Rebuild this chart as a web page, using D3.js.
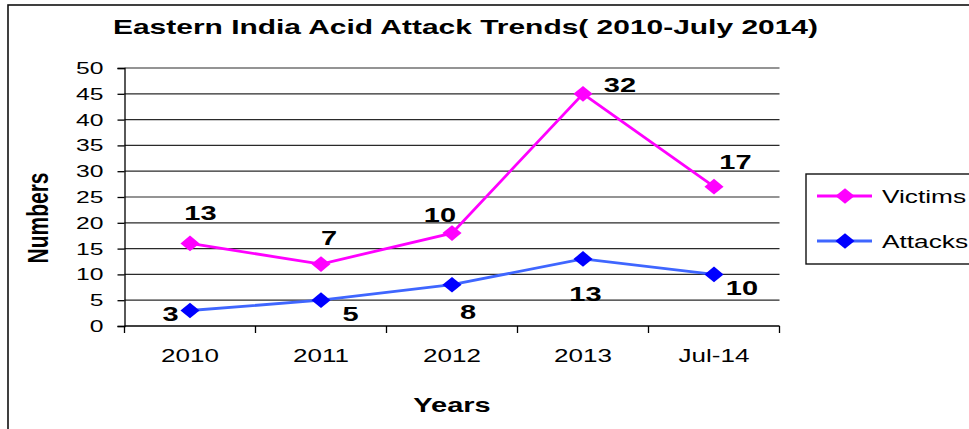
<!DOCTYPE html>
<html>
<head>
<meta charset="utf-8">
<script src="https://cdn.jsdelivr.net/npm/d3@7"></script>
<style>
  body { margin: 0; background: #fff; overflow: hidden; }
  svg { display: block; }
  text { font-family: Arial, "Liberation Sans", sans-serif; }
</style>
</head>
<body>
<div class="content"></div>
<script>
const SVGWIDTH = 969
const SVGHEIGHT = 429

// chart data
const years = ["2010", "2011", "2012", "2013", "Jul-14"];
const victims = [16, 12, 18, 45, 27];
const victimsLabels = ["13", "7", "10", "32", "17"];
const attacks = [3, 5, 8, 13, 10];
const attacksLabels = ["3", "5", "8", "13", "10"];
const yTicks = [0, 5, 10, 15, 20, 25, 30, 35, 40, 45, 50];

// where each data label sits relative to its point (as in the original)
const victimsLabelOffset = [[10.5, -31], [8, -27], [-12, -19], [37, -9], [21.5, -25]];
const attacksLabelOffset = [[-19.5, 2.5], [29.5, 13], [16, 27], [2.5, 35], [28, 13]];

// the original picture is stretched sideways, so text gets widened too
function stretch(sel, k) {
    sel.each(function() {
        const w = this.getComputedTextLength();
        d3.select(this).attr("textLength", w * k).attr("lengthAdjust", "spacingAndGlyphs");
    });
}

const svg = d3.select(".content").append("svg")
    .attr("width", SVGWIDTH).attr("height", SVGHEIGHT);

// outer frame
svg.append("rect")
    .attr("x", 8).attr("y", 5)
    .attr("width", 1000).attr("height", 500)
    .attr("fill", "none").attr("stroke", "#111").attr("stroke-width", 1.6);

const plotLeft = 124.5, plotRight = 779.5, plotTop = 68, plotBottom = 326;

let xscale = d3.scaleBand().domain(years).range([plotLeft, plotRight]);
let yscale = d3.scaleLinear().domain([0, 50]).range([plotBottom, plotTop]);
const cx = d => xscale(d) + xscale.bandwidth() / 2;

// gridlines
svg.append("g").selectAll("line")
    .data(yTicks.slice(1))
    .join("line")
    .attr("x1", plotLeft).attr("x2", plotRight)
    .attr("y1", d => yscale(d)).attr("y2", d => yscale(d))
    .attr("stroke", "#2a2a2a").attr("stroke-width", 1.2);

// y axis
let yaxis = d3.axisLeft(yscale).tickValues(yTicks).tickSize(7).tickPadding(14);
let yg = svg.append("g").attr("transform", `translate(${plotLeft},0)`).call(yaxis);
yg.selectAll("text").style("font-size", "17px").attr("fill", "#000").call(stretch, 1.45);
yg.selectAll("line, path").attr("stroke", "#000").attr("stroke-width", 1.3);

// x axis
let xaxis = d3.axisBottom(xscale).tickSize(0).tickPadding(22.5);
let xg = svg.append("g").attr("transform", `translate(0,${plotBottom})`).call(xaxis);
xg.selectAll("text").style("font-size", "19px").attr("fill", "#000").call(stretch, 1.37);
xg.select("path").attr("stroke", "#000").attr("stroke-width", 1.3).attr("d", `M${plotLeft},0H${plotRight}`);
xg.selectAll(".bnd").data(years.concat([null]))
    .join("line").attr("class", "bnd")
    .attr("x1", (d, i) => plotLeft + i * xscale.bandwidth())
    .attr("x2", (d, i) => plotLeft + i * xscale.bandwidth())
    .attr("y1", 0).attr("y2", 7).attr("stroke", "#000").attr("stroke-width", 1.3);

// title and axis labels
svg.append("text").attr("x", 465.5).attr("y", 34).attr("text-anchor", "middle")
    .style("font-weight", "bold").style("font-size", "21px")
    .text("Eastern India Acid Attack Trends( 2010-July 2014)")
    .attr("textLength", 705).attr("lengthAdjust", "spacingAndGlyphs");
svg.append("text").attr("x", 452).attr("y", 412).attr("text-anchor", "middle")
    .style("font-weight", "bold").style("font-size", "21px").text("Years").call(stretch, 1.38);
svg.append("text").attr("transform", "translate(48,218) rotate(-90) scale(1,1.38)").attr("text-anchor", "middle")
    .style("font-weight", "bold").style("font-size", "21px").text("Numbers");

const series = [
    {name: "Victims", values: victims, labels: victimsLabels, offs: victimsLabelOffset, line: "#FF00FF", marker: "#FF00FF"},
    {name: "Attacks", values: attacks, labels: attacksLabels, offs: attacksLabelOffset, line: "#3F66FF", marker: "#0000FF"}
];

let line = d3.line().x((d, i) => cx(years[i])).y(d => yscale(d));

// Excel style diamond, a bit wider than tall
const wideDiamond = {
    draw(context, size) {
        const w = Math.sqrt(size) * 0.78, h = Math.sqrt(size) * 0.64;
        context.moveTo(0, -h);
        context.lineTo(w, 0);
        context.lineTo(0, h);
        context.lineTo(-w, 0);
        context.closePath();
    }
};
const diamond = d3.symbol().type(wideDiamond).size(150);

series.forEach(s => {
    svg.append("path").attr("d", line(s.values))
        .attr("fill", "none").attr("stroke", s.line).attr("stroke-width", 2.8);
    svg.append("g").selectAll("path")
        .data(s.values).join("path")
        .attr("d", diamond)
        .attr("transform", (d, i) => `translate(${cx(years[i])},${yscale(d)})`)
        .attr("fill", s.marker);
    svg.append("g").selectAll("text")
        .data(s.labels).join("text")
        .attr("x", (d, i) => cx(years[i]) + s.offs[i][0])
        .attr("y", (d, i) => yscale(s.values[i]) + s.offs[i][1] + 7.5)
        .attr("text-anchor", "middle")
        .style("font-weight", "bold").style("font-size", "21px")
        .text(d => d)
        .call(stretch, 1.38);
});

// legend
const legend = svg.append("g");
legend.append("rect").attr("x", 806).attr("y", 174).attr("width", 200).attr("height", 90)
    .attr("fill", "#fff").attr("stroke", "#111").attr("stroke-width", 1.4);
series.forEach((s, i) => {
    const ly = 196 + i * 45;
    legend.append("line").attr("x1", 817).attr("x2", 872).attr("y1", ly).attr("y2", ly)
        .attr("stroke", s.line).attr("stroke-width", 2.8);
    legend.append("path").attr("d", diamond).attr("transform", `translate(845,${ly})`).attr("fill", s.marker);
    legend.append("text").attr("x", 882).attr("y", ly + 7).style("font-size", "17.5px")
        .text(s.name).call(stretch, 1.5);
});
</script>
</body>
</html>
